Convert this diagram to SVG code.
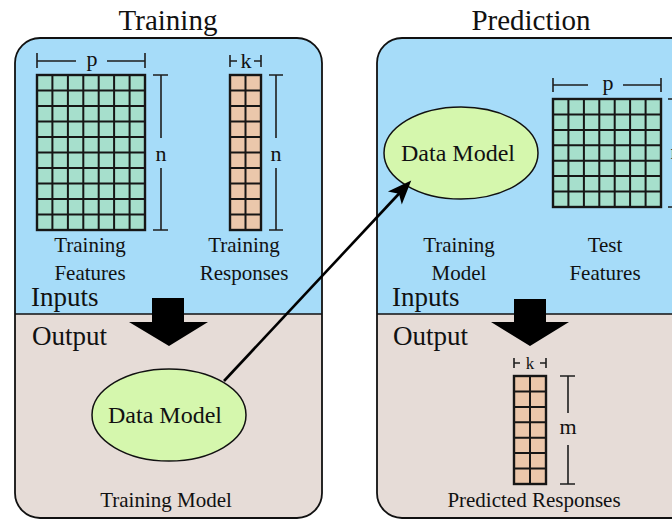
<svg xmlns="http://www.w3.org/2000/svg" width="672" height="520" viewBox="0 0 672 520">
<style>
text{font-family:"Liberation Serif","Times New Roman",serif;fill:#111}
.title{font-size:29px;text-anchor:middle}
.lbl{font-size:21px;text-anchor:middle}
.io{font-size:27px}
.dm{font-size:24px;text-anchor:middle}
.dim{font-size:22px;text-anchor:middle}
.dl{stroke:#1e1e1e;stroke-width:1.6;fill:none}
.gl{stroke:#161616;stroke-width:2;fill:none}
.gf{fill:#a6dfcc;stroke:#161616;stroke-width:2.4}
.rf{fill:#ebc7ab;stroke:#161616;stroke-width:2.4}
.ell{fill:#d5f7ad;stroke:#111;stroke-width:1.5}
.top{fill:#a6dcf9}
.bot{fill:#e6dcd7}
.border{fill:none;stroke:#111;stroke-width:1.8}
</style>
<defs>
<clipPath id="cpT"><rect x="15" y="38" width="307" height="480" rx="25"/></clipPath>
<clipPath id="cpP"><rect x="377" y="38" width="330" height="480" rx="25"/></clipPath>
<marker id="stealth" markerUnits="userSpaceOnUse" markerWidth="40" markerHeight="40" refX="0" refY="0" orient="auto" overflow="visible">
<path d="M15,0 L-9,-9.5 L-3,0 L-9,9.5 Z" fill="#000"/>
</marker>
</defs>

<text class="title" x="168" y="30">Training</text>
<text class="title" x="531" y="30">Prediction</text>

<g id="training-panel">
<g clip-path="url(#cpT)">
<rect class="top" x="15" y="38" width="307" height="276"/>
<rect class="bot" x="15" y="314" width="307" height="210"/>
</g>
<line x1="15" y1="314" x2="322" y2="314" stroke="#111" stroke-width="1.6"/>
<rect class="border" x="15" y="38" width="307" height="480" rx="25"/>
<text class="io" x="31" y="306">Inputs</text>
<text class="io" x="32" y="345">Output</text>
<text class="lbl" x="166" y="507">Training Model</text>
</g>

<g id="prediction-panel">
<g clip-path="url(#cpP)">
<rect class="top" x="377" y="38" width="330" height="276"/>
<rect class="bot" x="377" y="314" width="330" height="210"/>
</g>
<line x1="377" y1="314" x2="707" y2="314" stroke="#111" stroke-width="1.6"/>
<rect class="border" x="377" y="38" width="330" height="480" rx="25"/>
<text class="io" x="392" y="306">Inputs</text>
<text class="io" x="393" y="345">Output</text>
<text class="lbl" x="534" y="507">Predicted Responses</text>
</g>

<g id="training-features">
<rect class="gf" x="37" y="75" width="108" height="155"/>
<path class="gl" d="M52.4,75V230M67.9,75V230M83.3,75V230M98.7,75V230M114.1,75V230M129.6,75V230M37,90.5H145M37,106H145M37,121.5H145M37,137H145M37,152.5H145M37,168H145M37,183.5H145M37,199H145M37,214.5H145"/>
<path class="dl" d="M37,53V68M145,53V68M37,61H76M107,61H145M153,75H168M153,230H168M161,75V138M161,168V230"/>
<text class="dim" x="92" y="66">p</text>
<text class="dim" x="161" y="161">n</text>
<text class="lbl" x="90" y="252">Training</text>
<text class="lbl" x="90" y="280">Features</text>
</g>

<g id="training-responses">
<rect class="rf" x="230" y="75" width="31" height="155"/>
<path class="gl" d="M245.5,75V230M230,90.5H261M230,106H261M230,121.5H261M230,137H261M230,152.5H261M230,168H261M230,183.5H261M230,199H261M230,214.5H261"/>
<path class="dl" d="M230,55V67M261,55V67M230,61H237M254,61H261M269,75H283M269,230H283M276,75V138M276,168V230"/>
<text class="dim" x="246" y="68">k</text>
<text class="dim" x="276" y="161">n</text>
<text class="lbl" x="244" y="252">Training</text>
<text class="lbl" x="244" y="280">Responses</text>
</g>

<g id="training-data-model">
<ellipse class="ell" cx="169" cy="415" rx="77" ry="46"/>
<text class="dm" x="165" y="423">Data Model</text>
</g>

<g id="prediction-data-model">
<ellipse class="ell" cx="461" cy="153" rx="77" ry="46"/>
<text class="dm" x="458" y="161">Data Model</text>
<text class="lbl" x="459" y="252">Training</text>
<text class="lbl" x="459" y="280">Model</text>
</g>

<g id="test-features">
<rect class="gf" x="553" y="99" width="108" height="108"/>
<path class="gl" d="M568.4,99V207M583.9,99V207M599.3,99V207M614.7,99V207M630.1,99V207M645.6,99V207M553,114.4H661M553,129.9H661M553,145.3H661M553,160.7H661M553,176.1H661M553,191.6H661"/>
<path class="dl" d="M553,78V92M661,78V92M553,85H588M623,85H661M668,99H684M668,207H684M676,99V135M676,172V207"/>
<text class="dim" x="608" y="90">p</text>
<text class="dim" x="676" y="159">n</text>
<text class="lbl" x="605" y="252">Test</text>
<text class="lbl" x="605" y="280">Features</text>
</g>

<g id="predicted-responses">
<rect class="rf" x="514" y="376" width="32" height="108"/>
<path class="gl" d="M530,376V484M514,391.4H546M514,406.9H546M514,422.3H546M514,437.7H546M514,453.1H546M514,468.6H546"/>
<path class="dl" d="M514,358V368M546,358V368M514,363H520M540,363H546M560,376H575M560,484H575M568,376V413M568,445V484"/>
<text class="dim" x="530" y="369" style="font-size:17px">k</text>
<text class="dim" x="568" y="434">m</text>
</g>

<g id="connectors">
<polygon points="152,298 184,298 184,322 208,322 169,346 129,322 152,322" fill="#000"/>
<polygon points="514,299 546,299 546,322 569,322 530,346 491,322 514,322" fill="#000"/>
<line x1="224" y1="381" x2="401" y2="191.5" stroke="#000" stroke-width="2.6" marker-end="url(#stealth)"/>
</g>
</svg>
